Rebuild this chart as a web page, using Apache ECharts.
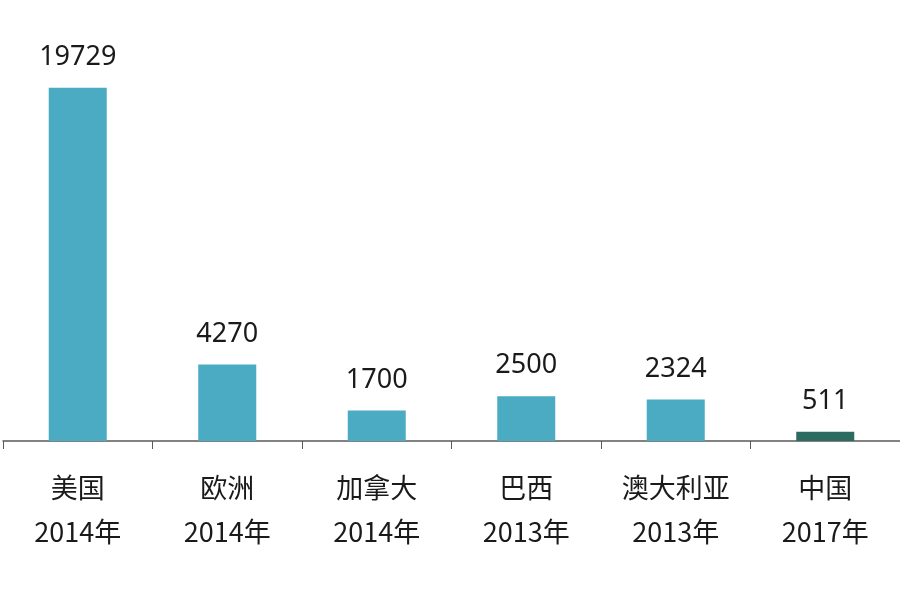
<!DOCTYPE html>
<html><head><meta charset="utf-8">
<script src="https://cdn.jsdelivr.net/npm/echarts@6/dist/echarts.min.js"></script>
<style>html,body{margin:0;padding:0;background:#fff}#c{width:900px;height:616px}</style>
</head><body><div id="c"></div>
<script>
var regions = ['美国', '欧洲', '加拿大', '巴西', '澳大利亚', '中国'];
var years = ['2014年', '2014年', '2014年', '2013年', '2013年', '2017年'];
var values = [19729, 4270, 1700, 2500, 2324, 511];
var colors = ['#4aabc2', '#4aabc2', '#4aabc2', '#4aabc2', '#4aabc2', '#2c6b5f'];

var categories = regions.map(function (r, i) { return r + '\n' + years[i]; });
var chart = echarts.init(document.getElementById('c'));
chart.setOption({
  animation: false,
  grid: { left: 3, right: 0, top: 83, bottom: 175 },
  xAxis: {
    type: 'category',
    data: categories,
    axisLine: { lineStyle: { color: '#595959', width: 1.5 } },
    axisTick: { show: true, alignWithLabel: false, length: 8, lineStyle: { color: '#595959' } },
    axisLabel: {
      color: '#1a1a1a', fontSize: 27, lineHeight: 44, margin: 25,
      fontFamily: 'Noto Sans CJK SC, sans-serif', interval: 0
    }
  },
  yAxis: {
    type: 'value', min: 0, max: 20000, show: false, splitLine: { show: false }
  },
  series: [{
    type: 'bar',
    barWidth: 58,
    data: values.map(function (v, i) { return { value: v, itemStyle: { color: colors[i] } }; }),
    label: {
      show: true, position: 'top', distance: 17,
      color: '#1a1a1a', fontSize: 27, fontFamily: 'Noto Sans, sans-serif'
    }
  }]
});
</script></body></html>
